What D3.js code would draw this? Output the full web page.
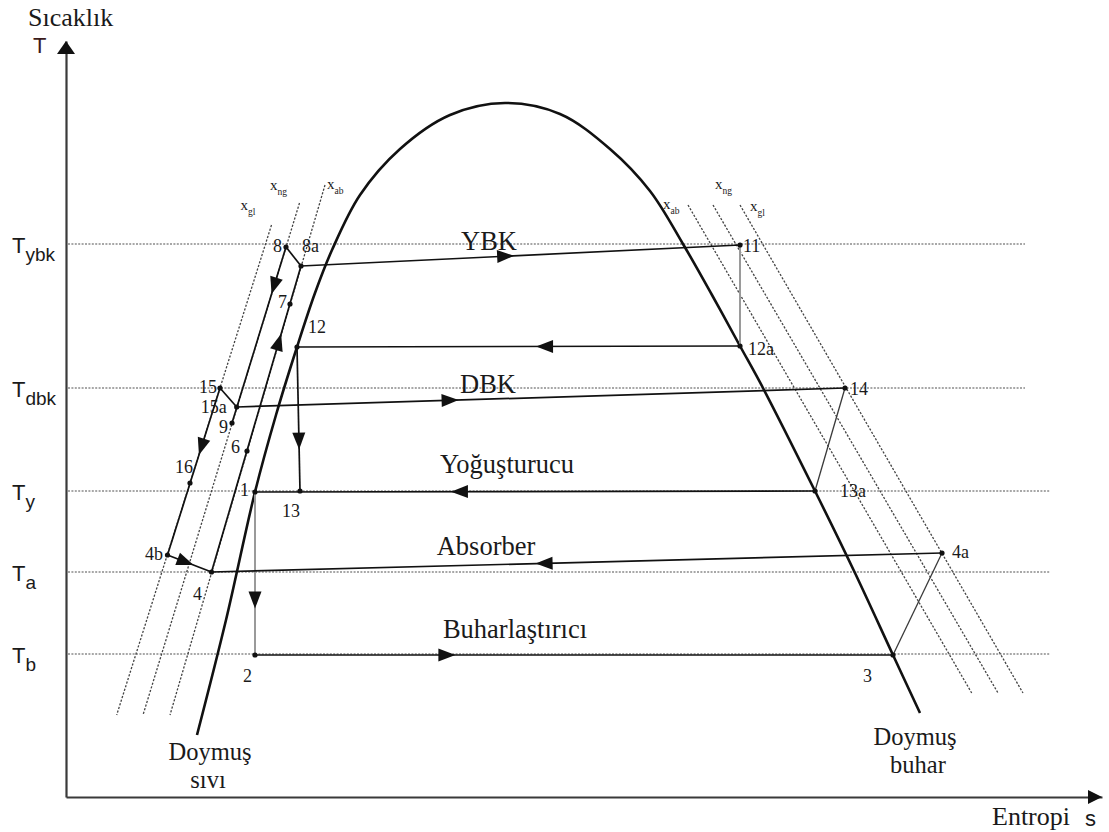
<!DOCTYPE html>
<html>
<head>
<meta charset="utf-8">
<script src="https://cdn.jsdelivr.net/npm/d3@7"></script>
<style>
  body { margin: 0; background: #fff; }
  svg { display: block; }
</style>
</head>
<body>
<svg id="chart" width="1109" height="832"></svg>
<script>
// ---- T-s diagram of a double-effect absorption cycle ----

// Temperature levels of the heat exchange units
const levelNames  = ["ybk", "dbk", "y", "a", "b"];
const levelValues = [55.3, 40.9, 30.6, 22.5, 14.3];
const levelEnds   = [95.9, 95.9, 98.4, 98.4, 98.4];

// Saturation dome (entropy s, temperature T)
const domeS = [13.1, 16.0, 18.9, 21.0, 23.1, 24.9, 26.6, 29.4, 33.4, 38.4, 43.9,
               49.4, 54.4, 58.4, 61.7, 64.6, 67.4, 69.7, 74.9, 78.9, 82.7, 85.4];
const domeT = [6.2, 17.7, 30.5, 38.2, 45.0, 50.4, 54.7, 60.2, 64.8, 68.2, 69.4,
               68.3, 64.8, 60.6, 55.3, 50.2, 45.1, 40.9, 30.6, 22.4, 14.2, 8.4];

// Cycle state points
const pointNames = ["1", "2", "3", "4", "4a", "4b", "6", "7", "8", "8a", "9",
                    "11", "12", "12a", "13", "13a", "14", "15", "15a", "16"];
const pointS = [18.9, 18.9, 82.7, 14.55, 87.6, 10.15, 18.1, 22.4, 22.0, 23.5, 16.6,
                67.4, 23.1, 67.4, 23.4, 74.9, 77.9, 15.4, 17.07, 12.4];
const pointT = [30.5, 14.2, 14.2, 22.5, 24.4, 24.2, 34.6, 49.3, 55.0, 53.1, 37.4,
                55.2, 45.0, 45.1, 30.6, 30.6, 40.9, 40.9, 39.0, 31.4];

// Constant concentration lines (liquid side, then vapour side)
const concNames = ["gl", "ng", "ab", "ab", "ng", "gl"];
const concS0 = [20.55, 23.35, 25.9, 62.2, 64.7, 67.4];
const concT0 = [57.2, 59.4, 61.2, 59.2, 59.2, 59.2];
const concS1 = [5.07, 7.7, 10.4, 90.57, 93.2, 95.7];
const concT1 = [8.2, 8.2, 8.2, 10.4, 10.4, 10.4];

// Process lines between state points
const mainSegments  = [["8", "8a"], ["8a", "11"], ["12a", "12"], ["15", "15a"], ["15a", "14"],
                       ["13a", "1"], ["4a", "4"], ["2", "3"], ["12", "13"], ["8", "9"],
                       ["4", "8a"], ["15", "4b"], ["4b", "4"]];
const greySegments  = [["11", "12a"], ["1", "2"]];
const thinSegments  = [["14", "13a"], ["3", "4a"]];

// Flow direction arrows: from, to, fraction along the segment
const arrowFrom = ["8a", "12a", "15a", "13a", "4a", "2", "12", "1", "8", "4", "15", "4b"];
const arrowTo   = ["11", "12", "14", "1", "4", "3", "13", "2", "15a", "8a", "4b", "4"];
const arrowAt   = [0.465, 0.44, 0.35, 0.634, 0.544, 0.30, 0.65, 0.66, 0.24, 0.75, 0.35, 0.4];

// Unit names written on the temperature levels
const unitNames = ["YBK", "DBK", "Yoğuşturucu", "Absorber", "Buharlaştırıcı"];
const unitS     = [42.3, 42.2, 44.1, 42.0, 44.9];

// ---------------------------------------------------------------
const svg = d3.select("#chart");
const x = d3.scaleLinear().domain([0, 103.6]).range([66, 1102]);
const y = d3.scaleLinear().domain([0, 75.6]).range([797, 41]);

const SERIF = "'Liberation Serif', 'Times New Roman', serif";
const SANS = "'Liberation Sans', Arial, sans-serif";
const INK = "#1a1a1a";

const pt = {};
pointNames.forEach((n, i) => pt[n] = { s: pointS[i], T: pointT[i] });

// temperature level lines (dotted)
levelValues.forEach((v, i) => {
  svg.append("line")
    .attr("x1", x(0.2)).attr("x2", x(levelEnds[i]))
    .attr("y1", y(v)).attr("y2", y(v))
    .attr("stroke", "#8a8a8a").attr("stroke-width", 1.5)
    .attr("stroke-dasharray", "2,1.4");
});

// concentration lines (dotted)
concNames.forEach((n, i) => {
  svg.append("line")
    .attr("x1", x(concS0[i])).attr("y1", y(concT0[i]))
    .attr("x2", x(concS1[i])).attr("y2", y(concT1[i]))
    .attr("stroke", "#444").attr("stroke-width", 1.3)
    .attr("stroke-dasharray", "2.2,1.6");
});

// saturation dome
const domeLine = d3.line().x(d => x(d[0])).y(d => y(d[1])).curve(d3.curveCatmullRom.alpha(0.5));
svg.append("path")
  .attr("d", domeLine(domeS.map((s, i) => [s, domeT[i]])))
  .attr("fill", "none").attr("stroke", "#111").attr("stroke-width", 2.6);

// process lines
function drawSegs(list, color, width) {
  list.forEach(([a, b]) => {
    svg.append("line")
      .attr("x1", x(pt[a].s)).attr("y1", y(pt[a].T))
      .attr("x2", x(pt[b].s)).attr("y2", y(pt[b].T))
      .attr("stroke", color).attr("stroke-width", width);
  });
}
drawSegs(greySegments, "#9a9a9a", 2);
drawSegs(thinSegments, "#3a3a3a", 1.3);
drawSegs(mainSegments, "#111", 1.7);

// flow arrows
arrowFrom.forEach((a, i) => {
  const b = arrowTo[i], t = arrowAt[i];
  const x0 = x(pt[a].s), y0 = y(pt[a].T), x1 = x(pt[b].s), y1 = y(pt[b].T);
  const cx = x0 + (x1 - x0) * t, cy = y0 + (y1 - y0) * t;
  const ang = Math.atan2(y1 - y0, x1 - x0) * 180 / Math.PI;
  svg.append("path")
    .attr("d", "M9,0 L-8,-6.5 L-8,6.5 Z")
    .attr("transform", `translate(${cx},${cy}) rotate(${ang})`)
    .attr("fill", "#111");
});

// state point dots
pointNames.forEach(n => {
  svg.append("circle").attr("cx", x(pt[n].s)).attr("cy", y(pt[n].T))
    .attr("r", 2.6).attr("fill", "#111");
});

// state point labels
const pointLabelLayout = {
  "1": [-6, 4, "end"], "2": [-12, 27, "start"], "3": [-30, 27, "start"],
  "4": [-9.5, 28, "end"], "4a": [10, 5, "start"], "4b": [-4.5, 5, "end"],
  "6": [-7, 2, "end"], "7": [-3, 4, "end"], "8": [-4, 5, "end"],
  "8a": [1, -14, "start"], "9": [-4, 10, "end"], "11": [3, 7, "start"],
  "12": [11, -14, "start"], "12a": [8, 9, "start"], "13": [-18, 26, "start"],
  "13a": [25, 6, "start"], "14": [5, 7, "start"], "15": [-3, 5, "end"],
  "15a": [-10, 6, "end"], "16": [3, -10, "end"]
};
pointNames.forEach(n => {
  const [dx, dy, anchor] = pointLabelLayout[n];
  svg.append("text")
    .attr("x", x(pt[n].s) + dx).attr("y", y(pt[n].T) + dy)
    .attr("text-anchor", anchor)
    .attr("font-family", SERIF).attr("font-size", 18).attr("fill", INK)
    .text(n);
});

// unit names
const unitDy = [6, 5, -18, -17, -16];
unitNames.forEach((n, i) => {
  svg.append("text")
    .attr("x", x(unitS[i])).attr("y", y(levelValues[i]) + unitDy[i])
    .attr("text-anchor", "middle")
    .attr("font-family", SERIF).attr("font-size", 26.5).attr("fill", INK)
    .text(n);
});

// concentration labels x_gl, x_ng, x_ab
const concLabelOffset = [[-31, -15], [-29.5, -13], [2, 4], [-25, 4], [2, -16], [10, 6]];
concNames.forEach((n, i) => {
  const [dx, dy] = concLabelOffset[i];
  const t = svg.append("text")
    .attr("x", x(concS0[i]) + dx).attr("y", y(concT0[i]) + dy)
    .attr("font-family", SERIF).attr("fill", INK);
  t.append("tspan").attr("font-size", 15).text("x");
  t.append("tspan").attr("font-size", 9.5).attr("dy", 5).text(n);
});

// axes
const yAxis = svg.append("g").attr("transform", `translate(${x(0)},0)`)
  .call(d3.axisLeft(y).tickValues([]).tickSizeOuter(0));
const xAxis = svg.append("g").attr("transform", `translate(0,${y(0)})`)
  .call(d3.axisBottom(x).tickValues([]).tickSizeOuter(0));
[yAxis, xAxis].forEach(g => g.select(".domain").attr("stroke", "#3a3a3a").attr("stroke-width", 2.2));

svg.append("path")
  .attr("d", `M${x(0)},${y(75.6)} L${x(0) - 9},${y(75.6) + 13} L${x(0) + 9},${y(75.6) + 13} Z`)
  .attr("fill", "#111");
svg.append("path")
  .attr("d", `M${x(103.6)},${y(0)} L${x(103.6) - 14},${y(0) - 7} L${x(103.6) - 14},${y(0) + 7} Z`)
  .attr("fill", "#111");

// temperature level names on the T axis
levelNames.forEach((n, i) => {
  const t = svg.append("text")
    .attr("x", 12).attr("y", y(levelValues[i]) + 9)
    .attr("font-family", SANS).attr("fill", INK);
  t.append("tspan").attr("font-size", 22).text("T");
  t.append("tspan").attr("font-size", 19).attr("dy", 8).text(n);
});

// axis titles
svg.append("text").attr("x", 28).attr("y", 26)
  .attr("font-family", SERIF).attr("font-size", 26).attr("fill", INK).text("Sıcaklık");
svg.append("text").attr("x", 33).attr("y", 53)
  .attr("font-family", SANS).attr("font-size", 22).attr("fill", "#3a1a1a").text("T");
svg.append("text").attr("x", 992).attr("y", 825)
  .attr("font-family", SERIF).attr("font-size", 26).attr("fill", INK).text("Entropi");
svg.append("text").attr("x", 1085).attr("y", 826)
  .attr("font-family", SANS).attr("font-size", 22).attr("fill", INK).text("s");

// saturation curve names
const satLabels = [
  { lines: ["Doymuş", "sıvı"], s: 14.4, T: domeT[0] },
  { lines: ["Doymuş", "buhar"], s: 84.9, T: domeT[domeT.length - 1] }
];
const satLayout = [[[0, 25], [-2, 53]], [[0, 32], [3, 60]]];
satLabels.forEach((d, i) => {
  d.lines.forEach((line, j) => {
    svg.append("text")
      .attr("x", x(d.s) + satLayout[i][j][0]).attr("y", y(d.T) + satLayout[i][j][1])
      .attr("text-anchor", "middle")
      .attr("font-family", SERIF).attr("font-size", 24.5).attr("fill", INK)
      .text(line);
  });
});
</script>
</body>
</html>
